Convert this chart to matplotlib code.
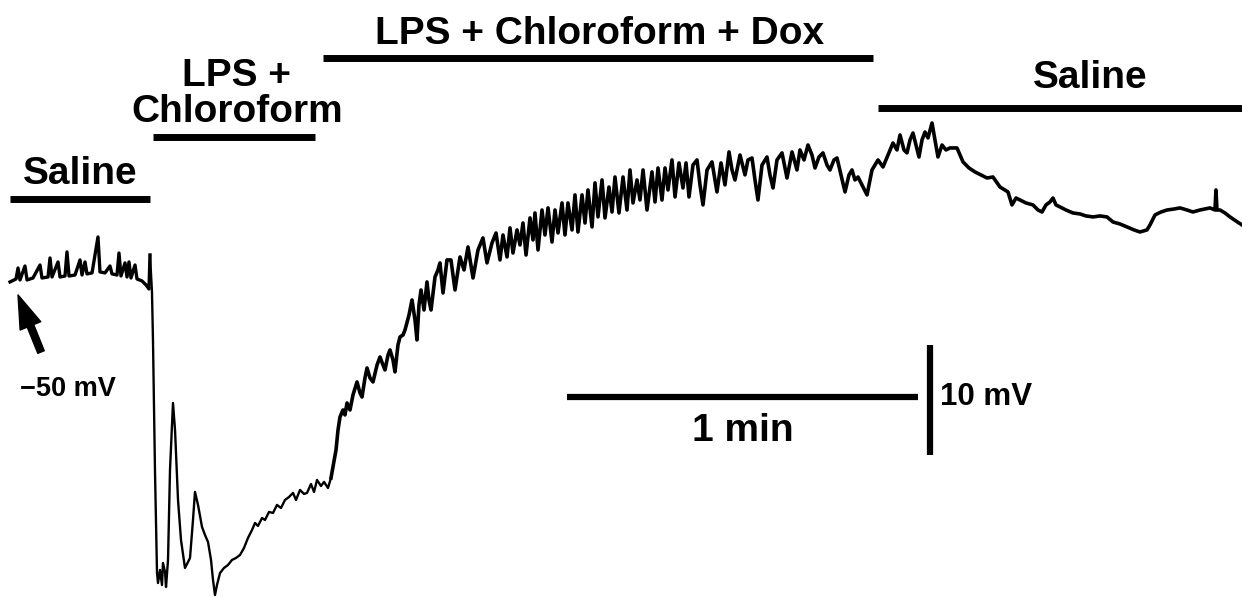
import numpy as np
import matplotlib
matplotlib.use("Agg")
import matplotlib.pyplot as plt

# Membrane potential trace: time in s, voltage in mV
saline_t = [0.00, 1.03, 1.37, 1.71, 2.56, 2.91, 3.93, 5.13, 5.47, 6.50,
            6.84, 7.18, 8.21, 8.55, 9.40, 9.74, 10.09, 11.11, 11.97, 12.31,
            12.82, 13.16, 14.02, 15.04, 15.38, 16.24, 17.09, 17.44, 18.29, 18.63,
            18.97, 19.66, 20.00, 20.34, 20.68, 21.37, 21.71, 22.56, 23.25, 23.76,
            23.93]
saline_mv = [-50.18, -49.91, -48.91, -50.00, -48.73, -50.00, -49.82, -48.64, -49.82, -49.73,
             -48.00, -49.73, -48.36, -49.73, -49.64, -47.45, -49.64, -49.55, -48.18, -49.55,
             -48.36, -49.45, -49.36, -46.09, -49.27, -49.36, -48.73, -49.45, -49.55, -47.55,
             -49.64, -48.45, -49.73, -48.36, -49.82, -48.64, -49.91, -50.09, -50.45, -50.82,
             -47.73]

lps_t = [24.27, 24.44, 24.79, 25.13, 25.30, 25.64, 25.98, 26.15, 26.50, 26.67,
         27.01, 27.35, 27.86, 28.21, 28.72, 29.23, 29.91, 30.43, 30.77, 31.28,
         31.62, 32.14, 32.82, 33.33, 33.85, 34.36, 34.70, 35.04, 35.38, 35.90,
         36.58, 37.26, 37.95, 38.63, 39.32, 40.00, 40.68, 41.37, 41.88, 42.39,
         43.08, 43.59, 44.27, 44.96, 45.64, 46.32, 47.01, 47.69, 48.38, 48.89,
         49.57, 50.26, 50.77, 51.45, 51.97, 52.48, 53.16, 53.68, 54.36, 54.87]
lps_mv = [-51.09, -55.45, -67.55, -76.64, -77.55, -76.36, -77.73, -75.73, -76.55, -77.91,
          -75.45, -67.27, -61.18, -63.64, -70.00, -73.64, -76.18, -75.64, -75.27, -71.82,
          -69.27, -70.45, -72.45, -73.18, -73.82, -75.45, -77.27, -78.64, -77.73, -76.64,
          -76.18, -75.91, -75.45, -75.27, -75.00, -74.36, -73.45, -72.73, -72.09, -72.36,
          -71.64, -71.82, -71.09, -71.18, -70.45, -70.73, -70.00, -69.73, -69.36, -70.00,
          -69.09, -69.45, -69.36, -68.55, -69.27, -68.18, -68.73, -68.36, -68.91, -68.00]

dox_rise_t = [55.21, 55.73, 56.07, 56.41, 56.92, 57.26, 57.61, 58.12, 58.63, 59.32,
              59.83, 60.17, 60.68, 61.03, 61.54, 62.05, 62.74, 63.25, 63.76, 64.10,
              64.62, 64.96, 65.47, 65.81, 66.32, 66.67, 67.18, 67.52, 68.21, 68.72,
              69.23, 69.57, 69.91, 70.26, 70.77, 71.28, 71.62, 71.97, 72.65, 73.16,
              73.50, 74.02, 74.70, 75.38, 76.07, 76.92, 77.61, 78.29, 79.15, 80.00,
              80.85, 81.54, 82.39, 83.08, 83.76, 84.27]
dox_rise_mv = [-67.00, -65.45, -63.64, -62.45, -61.82, -62.27, -61.18, -61.82, -60.45, -59.27,
               -60.27, -60.64, -58.91, -58.00, -58.91, -59.27, -57.73, -57.00, -57.73, -58.18,
               -56.82, -56.36, -57.27, -58.36, -55.91, -55.18, -55.00, -54.55, -53.18, -51.82,
               -53.64, -55.45, -52.27, -50.91, -52.73, -50.18, -51.82, -52.73, -49.73, -49.09,
               -48.45, -51.18, -48.18, -48.18, -50.91, -47.91, -49.09, -47.00, -49.82, -47.27,
               -46.18, -48.45, -46.64, -45.73, -48.18, -45.91]

dox_plateau_t = [84.96, 85.47, 85.98, 86.67, 87.18, 87.69, 88.21, 88.89, 89.40, 89.74,
                 90.26, 90.94, 91.45, 91.97, 92.65, 93.16, 93.68, 94.36, 94.87, 95.38,
                 96.07, 96.58, 97.09, 97.78, 98.29, 98.80, 99.49, 100.00, 100.51, 101.20,
                 101.71, 102.39, 102.91, 103.42, 104.10, 104.79, 105.47, 105.98, 106.50, 107.18,
                 107.69, 108.21, 108.89, 109.74, 110.26, 110.77, 111.45, 111.97, 112.48, 113.16,
                 113.68, 114.36, 115.04, 115.56, 116.07, 116.75, 117.44, 117.95, 118.46, 119.15,
                 120.00, 120.85, 121.54, 122.22, 122.91, 123.42, 123.93, 124.79, 125.64, 126.15,
                 126.84, 127.35, 127.86, 128.55, 129.40, 129.91, 130.43, 131.11, 131.97, 132.82,
                 133.68, 134.53, 135.04, 135.73, 136.41, 137.09, 137.61, 138.29, 138.97, 139.66,
                 140.17, 140.85, 141.37, 142.05, 142.74, 143.42, 143.93, 144.44, 144.96, 145.64,
                 146.50, 147.35]
dox_plateau_mv = [-47.91, -45.27, -47.55, -45.45, -46.82, -44.82, -47.73, -44.36, -46.36, -43.91,
                  -47.27, -43.64, -45.91, -43.45, -46.55, -43.64, -45.73, -43.00, -45.91, -43.00,
                  -45.45, -42.27, -45.64, -42.27, -44.82, -41.82, -45.18, -41.18, -44.27, -40.91,
                  -44.36, -41.55, -43.82, -40.64, -43.91, -40.64, -43.64, -40.00, -43.00, -40.91,
                  -42.73, -40.00, -43.64, -40.18, -42.91, -39.82, -42.73, -39.82, -41.82, -39.09,
                  -42.45, -39.36, -41.64, -39.36, -42.45, -39.55, -39.09, -41.36, -43.18, -40.00,
                  -39.27, -42.00, -39.36, -41.36, -38.36, -40.00, -40.91, -38.64, -40.45, -39.09,
                  -38.91, -40.91, -42.73, -39.55, -38.82, -40.45, -41.64, -39.09, -38.45, -40.73,
                  -38.36, -40.00, -38.18, -39.09, -37.73, -38.64, -39.82, -38.82, -38.45, -39.55,
                  -40.00, -39.09, -38.91, -40.45, -42.00, -40.45, -40.00, -40.91, -40.64, -41.36,
                  -42.27, -40.00]

wash_t = [148.38, 149.23, 150.09, 150.94, 151.62, 152.14, 152.82, 153.33, 153.85, 154.36,
          154.87, 155.38, 155.90, 156.41, 156.92, 157.61, 158.12, 158.63, 159.32, 160.00,
          160.68, 161.88, 162.91, 163.93, 164.96, 165.98, 167.01, 168.03, 169.23, 170.60,
          171.28, 171.97, 172.65, 173.68, 174.87, 175.73, 176.41, 177.09, 177.78, 178.29,
          178.80, 179.49, 180.51, 181.71, 182.91, 183.93, 185.13, 186.32, 187.52, 188.55,
          189.74, 190.94, 192.14, 193.16, 194.36, 194.87, 195.73, 196.75, 197.78, 198.97,
          200.00, 201.20, 202.22, 203.42, 205.13, 205.98, 206.15, 206.32, 206.84, 207.69,
          208.55, 209.57, 210.60]
wash_mv = [-39.09, -39.73, -38.64, -37.55, -38.18, -36.82, -38.18, -38.45, -37.27, -36.64,
           -37.73, -38.82, -37.27, -36.55, -37.09, -35.73, -37.27, -38.82, -37.73, -38.18,
           -38.00, -38.00, -39.27, -39.82, -40.18, -40.45, -40.73, -40.64, -41.55, -42.00,
           -43.18, -42.55, -42.73, -43.00, -43.18, -43.64, -43.82, -43.18, -42.91, -42.55,
           -43.18, -43.36, -43.64, -43.91, -44.00, -44.18, -44.27, -44.18, -44.27, -44.73,
           -44.91, -45.18, -45.45, -45.64, -45.45, -45.00, -44.09, -43.82, -43.64, -43.55,
           -43.45, -43.64, -43.82, -43.64, -43.45, -43.64, -41.82, -43.64, -43.64, -43.91,
           -44.27, -44.64, -45.00]

# Perfusion epochs (s)
epoch_labels = ["Saline", "LPS +\nChloroform", "LPS + Chloroform + Dox", "Saline"]
epoch_start = [0.0, 24.4, 53.5, 148.4]
epoch_end = [23.9, 52.1, 147.5, 210.6]

# Scale bars
time_bar_s = 60
volt_bar_mv = 10
rest_mv = -50

plt.rcParams["font.family"] = ["Liberation Sans", "DejaVu Sans"]

fig = plt.figure(figsize=(12.42, 5.97), dpi=100)
ax = fig.add_axes([0, 0, 1, 1])
ax.set_xlim(-1.71, 210.6)
ax.set_ylim(-78.82, -24.55)
ax.axis("off")

# thin line for the fast drop, thicker for the noisy parts
ax.plot(saline_t, saline_mv, color="black", linewidth=2.4, solid_joinstyle="round")
ax.plot([saline_t[-1]] + lps_t, [saline_mv[-1]] + lps_mv, color="black",
        linewidth=1.7, solid_joinstyle="round")
t = np.concatenate([lps_t[-1:], dox_rise_t, dox_plateau_t, wash_t])
v = np.concatenate([lps_mv[-1:], dox_rise_mv, dox_plateau_mv, wash_mv])
ax.plot(t, v, color="black", linewidth=2.6, solid_joinstyle="round")

# epoch bars + labels (x in s, y in axes fraction)
trans = ax.get_xaxis_transform()
bar_y = [0.666, 0.771, 0.903, 0.819]
label_x = [11.97, 38.8, 100.85, 184.6]
label_y = [0.692, 0.796, 0.926, 0.853]
for lab, s, e, by, lx, ly in zip(epoch_labels, epoch_start, epoch_end, bar_y, label_x, label_y):
    ax.plot([s, e], [by, by], transform=trans, color="black", linewidth=5,
            solid_capstyle="butt")
    for k, line in enumerate(lab.split("\n")[::-1]):
        ax.text(lx, ly + k * 0.06, line, transform=trans, ha="center", va="baseline",
                fontsize=28, fontweight="bold")

# scale bars
hb_t0, hb_v = 95.2, -60.6
ax.plot([hb_t0, hb_t0 + time_bar_s], [hb_v, hb_v], color="black", linewidth=4.5,
        solid_capstyle="butt")
ax.text(hb_t0 + time_bar_s / 2, -64.64, "1 min", ha="center", va="baseline",
        fontsize=28, fontweight="bold")
vb_t, vb_v0 = 157.3, -65.9
ax.plot([vb_t, vb_t], [vb_v0, vb_v0 + volt_bar_mv], color="black", linewidth=4.5,
        solid_capstyle="butt")
ax.text(158.97, -61.36, "10 mV", ha="left", va="baseline", fontsize=22.5, fontweight="bold")

# resting potential marker
ax.annotate("", xy=(1.37, rest_mv - 1.36), xytext=(5.3, rest_mv - 6.55),
            arrowprops=dict(facecolor="black", edgecolor="black", width=5,
                            headwidth=16, headlength=24, shrink=0))
ax.text(1.71, -60.55, "\u221250 mV", ha="left", va="baseline", fontsize=19.5,
        fontweight="bold")

fig.savefig("out.png", dpi=100)
